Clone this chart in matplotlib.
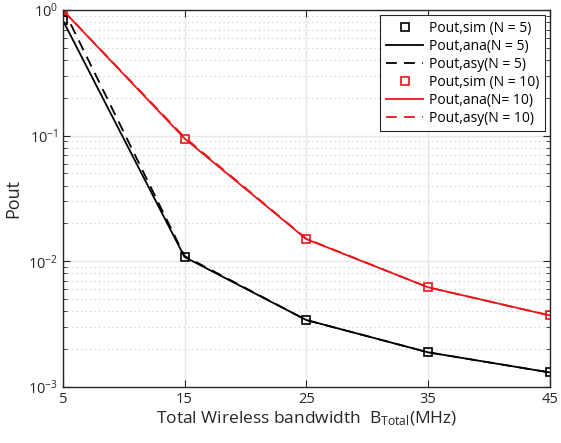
import numpy as np
import matplotlib.pyplot as plt

# ---- DATA ----
bw = [5, 15, 25, 35, 45]   # B_Total (MHz)

sim_n5 = [0.83, 0.0108, 0.0034, 0.00188, 0.0013]
ana_n5 = [0.83, 0.0108, 0.0034, 0.00188, 0.0013]
asy_n5 = [1.04, 0.0110, 0.0034, 0.00188, 0.0013]

sim_n10 = [1.0, 0.095, 0.015, 0.0062, 0.0037]
ana_n10 = [1.0, 0.095, 0.015, 0.0062, 0.0037]
asy_n10 = [1.0, 0.097, 0.0151, 0.0062, 0.0037]

plt.rcParams['font.family'] = ['Open Sans', 'DejaVu Sans']
plt.rcParams['mathtext.default'] = 'regular'

red = '#e8161b'

# ---- PLOT ----
fig = plt.figure(figsize=(5.61, 4.43), dpi=100)
ax = fig.add_axes([0.112, 0.127, 0.868, 0.850])

ax.plot(bw, sim_n5, 's', color='black', mfc='none', ms=6, mew=1.2, label='Pout,sim (N = 5)')
ax.plot(bw, ana_n5, '-', color='black', lw=1.3, label='Pout,ana(N = 5)')
ax.plot(bw, asy_n5, '--', color='black', lw=1.3, dashes=(6, 4), label='Pout,asy(N = 5)')
ax.plot(bw, sim_n10, 's', color=red, mfc='none', ms=6, mew=1.2, label='Pout,sim (N = 10)')
ax.plot(bw, ana_n10, '-', color=red, lw=1.3, label='Pout,ana(N= 10)')
ax.plot(bw, asy_n10, '--', color=red, lw=1.3, dashes=(6, 4), label='Pout,asy(N = 10)')

ax.set_yscale('log')
ax.set_xlim(5, 45)
ax.set_ylim(1e-3, 1)
ax.set_xticks(bw)

ax.grid(True, which='major', color='#e6e6e6', lw=1.0, ls='-')
ax.grid(True, which='minor', axis='y', color='#c8c8c8', lw=0.8, ls=(0, (1, 3)))
ax.set_axisbelow(True)

ax.tick_params(which='both', direction='in', top=True, right=True, labelsize=10.5, colors='#262626')
ax.tick_params(which='major', length=5)
ax.tick_params(which='minor', length=3)
for s in ax.spines.values():
    s.set_color('#262626')
    s.set_linewidth(1.0)

ax.set_xlabel('Total Wireless bandwidth  B$_{Total}$(MHz)', fontsize=12.5, color='#262626', labelpad=2)
ax.set_ylabel('Pout', fontsize=13, color='#262626')

leg = ax.legend(loc='upper right', fontsize=10, fancybox=False, framealpha=1,
                edgecolor='#262626', borderaxespad=0.35, handlelength=2.7,
                labelspacing=0.22, handletextpad=0.4, borderpad=0.4)
leg.get_frame().set_linewidth(0.8)

plt.savefig('out.png', dpi=100)
